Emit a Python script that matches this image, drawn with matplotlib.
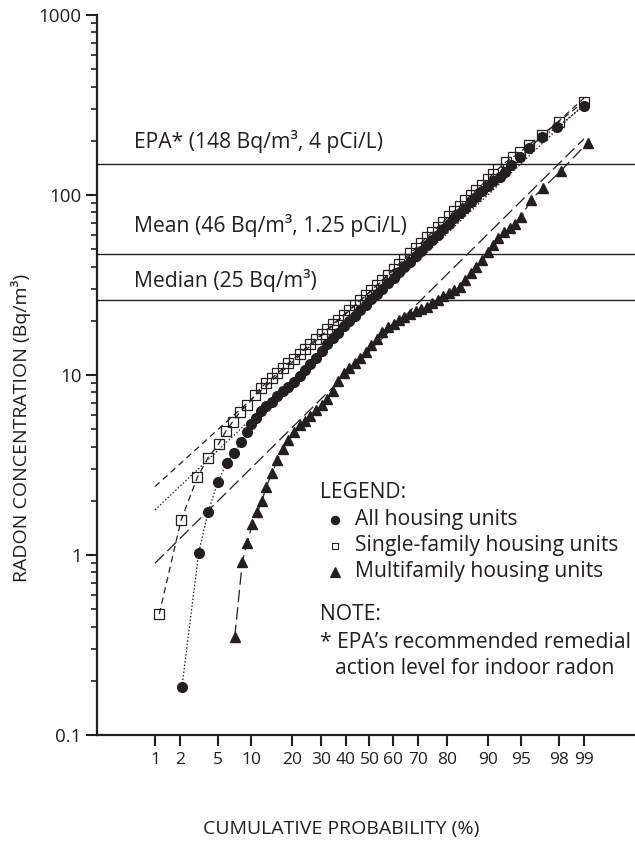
import matplotlib
matplotlib.use("Agg")
import matplotlib.pyplot as plt
from matplotlib.ticker import LogLocator, NullFormatter
from statistics import NormalDist

plt.rcParams['font.family'] = ['Open Sans', 'DejaVu Sans']

# cumulative probability (%) and radon concentration (Bq/m3)
all_pct = [2.1, 3.2, 4.0, 5.0, 6.1, 7.1, 8.2, 9.2, 10.0, 10.9,
           11.9, 13.1, 14.5, 15.9, 17.4, 18.9, 20.6, 22.4, 24.2, 26.1,
           28.1, 30.2, 32.3, 34.5, 36.7, 39.0, 41.3, 43.6, 46.0, 48.4,
           50.8, 53.2, 55.6, 57.9, 60.3, 62.6, 64.8, 67.0, 69.2, 71.2,
           73.2, 75.2, 77.0, 78.8, 80.5, 82.1, 83.7, 85.1, 86.4, 87.7,
           88.9, 90.0, 91.0,
           92.1, 92.9, 93.8, 94.9, 95.8, 96.9, 97.9, 99.0]
all_bq = [0.185, 1.03, 1.73, 2.54, 3.26, 3.67, 4.24, 4.84, 5.32, 5.74,
          6.3, 6.7, 7.1, 7.6, 8.1, 8.6, 9.2, 9.9, 10.7, 11.5,
          12.5, 13.6, 14.8, 16.0, 17.2, 18.6, 19.9, 21.4, 22.9, 24.6,
          26.3, 28.2, 30.2, 32.4, 34.7, 37.2, 39.8, 42.7, 45.7, 49.0,
          52.5, 56.2, 60.3, 64.6, 69.2, 74.1, 79.4, 85.1, 91.2, 97.7,
          104.7, 112, 120,
          126, 134, 147, 163, 182, 209, 238, 312]

single_pct = [1.13, 2.05, 3.1, 4.0, 5.1, 6.0, 6.9, 8.05, 9.2, 10.8,
              11.9, 13.1, 14.5, 15.9, 17.4, 18.9, 20.6, 22.4, 24.2, 26.1,
              28.1, 30.2, 32.3, 34.5, 36.7, 39.0, 41.3, 43.6, 46.0, 48.4,
              50.8, 53.2, 55.6, 57.9, 60.3, 62.6, 64.8, 67.0, 69.2, 71.2,
              73.2, 75.2, 77.0, 78.8, 80.5, 82.1, 83.7, 85.1, 86.4, 87.7,
              88.9, 90.0, 91.0, 91.9,
              93.0, 94.0, 94.9, 95.8, 96.9, 98.0, 99.0]
single_bq = [0.47, 1.56, 2.7, 3.47, 4.14, 4.91, 5.5, 6.26, 6.8, 7.74,
             8.5, 9.0, 9.6, 10.2, 10.9, 11.6, 12.3, 13.1, 14.0, 14.9,
             15.8, 16.8, 17.9, 19.1, 20.3, 21.6, 23.0, 24.4, 26.0, 27.7,
             29.5, 31.6, 33.8, 36.1, 38.7, 41.4, 44.3, 47.4, 50.7, 54.2,
             58.1, 62.1, 66.5, 71.1, 76.1, 81.5, 87.1, 93.3, 99.8, 106.8,
             114.3, 122.3, 130.9, 140,
             152, 162, 173, 190, 215, 255, 330]

multi_pct = [7.2, 8.4, 9.2, 10.2, 11.2, 12.2,
             13.1, 14.5, 15.9, 17.4, 18.9, 20.6, 22.4, 24.2, 26.1, 28.1,
             30.2, 32.3, 34.5, 36.7, 39.0, 41.3, 43.6, 46.0, 48.4, 50.8,
             53.2, 55.6, 57.9, 60.3, 62.6, 64.8, 67.0, 69.2, 71.2, 73.2,
             75.2, 77.0, 78.8, 80.5, 82.1, 83.7, 85.1, 86.4, 87.7, 88.9,
             90.0, 91.0, 91.9, 92.8, 93.6, 94.3, 95.0,
             96.0, 97.0, 98.1, 99.1]
multi_bq = [0.35, 0.92, 1.16, 1.49, 1.73, 2.0,
            2.38, 2.85, 3.37, 3.9, 4.35, 4.85, 5.25, 5.55, 5.9, 6.35,
            6.8, 7.4, 8.2, 9.3, 10.2, 10.9, 11.6, 12.4, 13.4, 14.6,
            15.8, 17.3, 18.4, 19.3, 20.1, 20.9, 21.8, 22.6, 23.3, 24.0,
            25.0, 26.2, 27.4, 28.6, 29.8, 31.0, 33.5, 37, 40, 43.5,
            48, 53, 57.5, 62, 65.5, 69, 75,
            94, 109, 136, 195]

# lognormal fit lines, end points at 1 % and 99 %
fit_pct = [1, 99]
all_fit = [1.78, 320]
single_fit = [2.4, 345]
multi_fit = [0.9, 205]

ref_values = [148, 47, 26]
ref_labels = ["EPA* (148 Bq/m³, 4 pCi/L)", "Mean (46 Bq/m³, 1.25 pCi/L)", "Median (25 Bq/m³)"]

prob_ticks = [1, 2, 5, 10, 20, 30, 40, 50, 60, 70, 80, 90, 95, 98, 99]
conc_ticks = [0.1, 1, 10, 100, 1000]
conc_labels = ["0.1", "1", "10", "100", "1000"]

ink = '#231f20'
nd = NormalDist()


def probit(pcts):
    # normal probability scale: percent -> standard normal quantile
    return [nd.inv_cdf(p / 100.0) for p in pcts]


fig = plt.figure(figsize=(6.35, 8.44), dpi=100)
ax = fig.add_axes([0.15276, 0.12915, 0.84724, 0.85308])

for v in ref_values:
    ax.axhline(v, color=ink, lw=1.0, zorder=1)

# fitted lines
ax.plot(probit(fit_pct), single_fit, color=ink, lw=0.9, ls=(0, (5, 3.5)), zorder=2)
ax.plot(probit(fit_pct), all_fit, color=ink, lw=0.9, ls=(0, (1.2, 1.6)), zorder=2)
ax.plot(probit(fit_pct), multi_fit, color=ink, lw=0.9, ls=(0, (10, 4)), zorder=2)

# data
ax.plot(probit(single_pct), single_bq, color=ink, lw=0.9, ls=(0, (5, 3.5)),
        marker='s', ms=7.2, mfc='none', mec=ink, mew=0.9, zorder=3)
ax.plot(probit(all_pct), all_bq, color=ink, lw=0.9, ls=(0, (1.2, 1.6)),
        marker='o', ms=7, mfc=ink, mec=ink, zorder=4)
ax.plot(probit(multi_pct), multi_bq, color=ink, lw=0.9, ls=(0, (10, 4)),
        marker='^', ms=7.5, mfc=ink, mec=ink, zorder=4)

ax.set_yscale('log')
ax.set_ylim(0.1, 1000)
ax.set_xlim(-2.955, 2.88)
ax.set_yticks(conc_ticks, conc_labels)
ax.yaxis.set_minor_locator(LogLocator(base=10, subs=range(2, 10)))
ax.yaxis.set_minor_formatter(NullFormatter())
ax.set_xticks(probit(prob_ticks), [str(p) for p in prob_ticks])

for s in ['top', 'right']:
    ax.spines[s].set_visible(False)
for s in ['left', 'bottom']:
    ax.spines[s].set_linewidth(1.6)
    ax.spines[s].set_color(ink)

ax.tick_params(axis='both', which='major', direction='out', length=8, width=1.5, color=ink)
ax.tick_params(axis='y', which='minor', direction='out', length=4.5, width=1.2, color=ink)
ax.tick_params(axis='y', which='major', labelsize=13.5, pad=3, labelcolor=ink)
ax.tick_params(axis='x', which='major', labelsize=12.5, pad=4, labelcolor=ink)

# reference line labels
fs = 15.2
ax.text(-2.554, 197, ref_labels[0], fontsize=fs, color=ink, va='center')
ax.text(-2.554, 68, ref_labels[1], fontsize=fs, color=ink, va='center')
ax.text(-2.554, 33.7, ref_labels[2], fontsize=fs, color=ink, va='center')

# legend and note
fig.text(320 / 635, 1 - 493 / 844, "LEGEND:", fontsize=fs, color=ink, va='center')
rows = [("o", "All housing units", 520, ink, 6),
        ("s", "Single-family housing units", 546, 'none', 5),
        ("^", "Multifamily housing units", 572, ink, 6.5)]
for mk, label, y, fc, size in rows:
    fig.lines.append(plt.Line2D([335 / 635], [1 - y / 844], transform=fig.transFigure,
                                marker=mk, ms=size, mfc=fc, mec=ink, mew=0.8, ls='none'))
    fig.text(355 / 635, 1 - y / 844, label, fontsize=fs, color=ink, va='center')
fig.text(320 / 635, 1 - 615 / 844, "NOTE:", fontsize=fs, color=ink, va='center')
fig.text(320 / 635, 1 - 642 / 844, "* EPA’s recommended remedial", fontsize=fs, color=ink, va='center')
fig.text(335 / 635, 1 - 669 / 844, "action level for indoor radon", fontsize=fs, color=ink, va='center')

fig.text(21 / 635, 1 - 428 / 844, "RADON CONCENTRATION (Bq/m³)", rotation=90, fontsize=14,
         color=ink, ha='center', va='center')
fig.text(341 / 635, 1 - 829 / 844, "CUMULATIVE PROBABILITY (%)", fontsize=14,
         color=ink, ha='center', va='center')

fig.savefig("out.png", dpi=100)
